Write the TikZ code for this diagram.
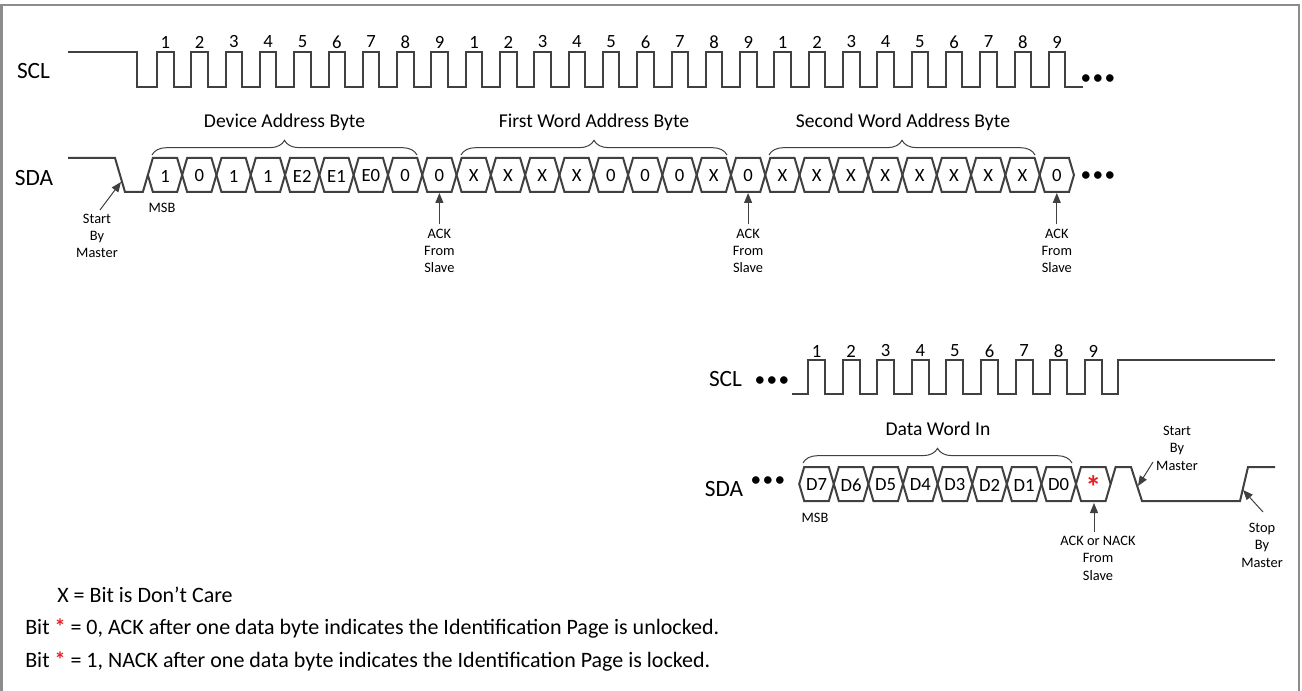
\documentclass[tikz,border=0pt]{standalone}
\usepackage{fontspec}
\setmainfont{Carlito}
\usetikzlibrary{arrows.meta,calc,positioning,decorations.pathreplacing}
\definecolor{wave}{RGB}{64,64,64}
\definecolor{frm}{RGB}{140,140,140}
\definecolor{ackred}{RGB}{232,30,36}
\tikzset{
  sig/.style={draw=wave,line width=1.5pt,line join=miter},
  frame/.style={draw=frm,line width=1.5pt},
  siglab/.style={font=\fontsize{17.5}{17.5}\selectfont,inner sep=0pt},
  numtxt/.style={font=\fontsize{14}{14}\selectfont,inner sep=0pt},
  bittxt/.style={font=\fontsize{14}{14}\selectfont,inner sep=0pt},
  bytelab/.style={font=\fontsize{14.7}{14.7}\selectfont,inner sep=0pt},
  note/.style={font=\fontsize{10.8}{13}\selectfont,align=center,inner sep=0pt,anchor=north},
  legend/.style={font=\fontsize{16.5}{16.5}\selectfont,anchor=west,inner sep=0pt},
  dots/.style={font=\fontsize{16}{16}\selectfont,inner sep=0pt,text=black},
  arr/.style={-{Triangle[length=7.5pt,width=6pt]},draw=wave,line width=0.75pt},
  bytebrace/.style={decorate,decoration={brace,amplitude=11pt},draw=wave,line width=0.75pt}
}
\newcommand{\redstar}{\textcolor{ackred}{\bfseries *}}
\newcommand{\tridot}{\textbullet\hspace{1pt}\textbullet\hspace{1pt}\textbullet}

\begin{document}
\begin{tikzpicture}[x=0.75pt,y=-0.75pt]
  \useasboundingbox (0,0) rectangle (1302,691);
  \draw[frame] (1.5,691) -- (1.5,5) -- (1299,5) -- (1299,691);

  % first part: device address and two word address bytes
  \node[siglab] (scla) at (33.5,71) {SCL};
  \node[siglab] (sdaa) at (34,178) {SDA};
  \draw[sig] (68,52) -- (137,52) -- (137,87)
    foreach \i in {0,...,26} { -- (157+\i*34.3,87) -- ++(0,-35) -- ++(16.5,0) -- ++(0,35) }
    -- (1083,87);
  \node[dots] (sclamore) at (1098,80) {\tridot};
  \foreach \j in {0,1,2}
    \foreach \i in {1,...,9}
      \node[numtxt] (n\j\i) at (131+\j*308.7+\i*34.3,42) {\i};

  \draw[sig] (68,158) -- (115,158) -- (125,192) -- (142.85,192) -- (147.85,175);
  \foreach \b [count=\k from 0] in {1,0,1,1,E2,E1,E0,0,0,X,X,X,X,0,0,0,X,0,X,X,X,X,X,X,X,X,0} {
    \pgfmathsetmacro\xl{147.85+\k*34.3}
    \draw[sig] (\xl,175) -- (\xl+5,158) -- (\xl+29.3,158) -- (\xl+34.3,175)
      -- (\xl+29.3,192) -- (\xl+5,192) -- cycle;
    \node[bittxt] (ta\k) at (\xl+17.15,176) {\b};
  }
  \node[dots] (sdaamore) at (1098,177) {\tridot};

  \draw[bytebrace] (152,155) -- (417,155);
  \draw[bytebrace] (461,155) -- (727,155);
  \draw[bytebrace] (769,155) -- (1035,155);
  \node[bytelab] (devbyte) at (284.5,122) {Device Address Byte};
  \node[bytelab] (firstbyte) at (594,122) {First Word Address Byte};
  \node[bytelab] (secbyte) at (903,122) {Second Word Address Byte};

  \node[note] (msba) at (162,203) {MSB};
  \node[note] (starta) at (97,213.5) {Start\\By\\Master};
  \coordinate (startatail) at (100,210);
  \coordinate (startatip) at (121,182);
  \draw[arr] (startatail) -- (startatip);

  \foreach \x/\nm in {439.4/acka,748.1/ackb,1056.8/ackc} {
    \node[note] (\nm) at (\x,228.5) {ACK\\From\\Slave};
    \coordinate (\nm tip) at (\x,193);
    \draw[arr,shorten <=3pt] (\nm.north) -- (\nm tip);
  }

  % second part: data word, then start and stop
  \node[siglab] (sclb) at (725.5,379) {SCL};
  \node[dots] (sclbmore) at (772,382) {\tridot};
  \draw[sig] (792,394)
    foreach \i in {0,...,8} { -- (808+\i*34.6,394) -- ++(0,-34) -- ++(17,0) -- ++(0,34) }
    -- (1118,394) -- (1118,360) -- (1275,360);
  \foreach \i in {1,...,9}
    \node[numtxt] (m\i) at (781.9+\i*34.6,351) {\i};

  \node[siglab] (sdab) at (724,489) {SDA};
  \node[dots] (sdabmore) at (768,482) {\tridot};
  \foreach \b [count=\k from 0] in {D7,D6,D5,D4,D3,D2,D1,D0} {
    \pgfmathsetmacro\xl{799.2+\k*34.6}
    \draw[sig] (\xl,484) -- (\xl+5,467) -- (\xl+29.6,467) -- (\xl+34.6,484)
      -- (\xl+29.6,501) -- (\xl+5,501) -- cycle;
    \node[bittxt] (tb\k) at (\xl+17.3,485) {\b};
  }
  \draw[sig] (1076,484) -- (1081,467) -- (1105.6,467) -- (1110.6,484)
    -- (1105.6,501) -- (1081,501) -- cycle;
  \node[font=\fontsize{24}{24}\selectfont\bfseries,text=ackred,inner sep=0pt] (ackstar) at (1093.3,487) {*};
  \draw[sig] (1110.6,484) -- (1115.6,467) -- (1131,467) -- (1142,501) -- (1240,501)
    -- (1248,467) -- (1275,467);

  \draw[bytebrace] (803,463) -- (1072,463);
  \node[bytelab] (dataword) at (938,429) {Data Word In};
  \node[note] (msbb) at (815,513) {MSB};

  \node[note] (ackd) at (1098,535.8) {ACK or NACK\\From\\Slave};
  \coordinate (ackdtip) at (1094,503);
  \draw[arr,shorten <=3pt] (ackd.north -| ackdtip) -- (ackdtip);

  \node[note] (startb) at (1177,425.8) {Start\\By\\Master};
  \coordinate (startbtail) at (1153,462);
  \coordinate (startbtip) at (1138,486);
  \draw[arr] (startbtail) -- (startbtip);

  \node[note] (stopb) at (1262,522.8) {Stop\\By\\Master};
  \coordinate (stopbtail) at (1263,512);
  \coordinate (stopbtip) at (1243,490);
  \draw[arr] (stopbtail) -- (stopbtip);

  % notes
  \node[legend] (lega) at (57,595) {X = Bit is Don’t Care};
  \node[legend] (legb) at (25,629) {Bit \redstar{} = 0, ACK after one data byte indicates the Identification Page is unlocked.};
  \node[legend] (legc) at (25,662) {Bit \redstar{} = 1, NACK after one data byte indicates the Identification Page is locked.};
\end{tikzpicture}
\end{document}
